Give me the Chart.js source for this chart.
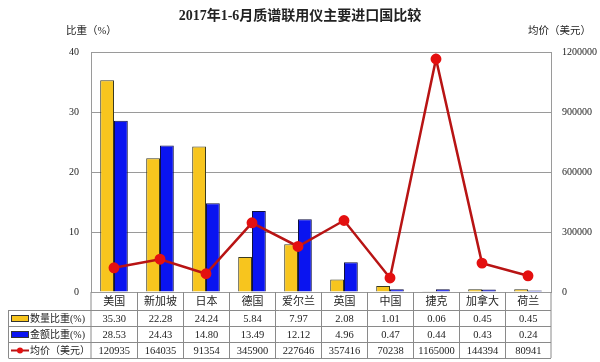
<!DOCTYPE html>
<html><head><meta charset="utf-8">
<script src="https://cdn.jsdelivr.net/npm/chart.js@4"></script>
<style>html,body{margin:0;padding:0;background:#fff}#wrap{width:600px;height:362px}</style>
</head><body><div id="wrap"><canvas id="c" width="600" height="362"></canvas></div>
<script>
const title = "2017年1-6月质谱联用仪主要进口国比较";
const categories = ["美国","新加坡","日本","德国","爱尔兰","英国","中国","捷克","加拿大","荷兰"];
const qtyShare = [35.30,22.28,24.24,5.84,7.97,2.08,1.01,0.06,0.45,0.45];
const amtShare = [28.53,24.43,14.80,13.49,12.12,4.96,0.47,0.44,0.43,0.24];
const avgPrice = [120935,164035,91354,345900,227646,357416,70238,1165000,144394,80941];
const qtyLabels = ["35.30","22.28","24.24","5.84","7.97","2.08","1.01","0.06","0.45","0.45"];
const amtLabels = ["28.53","24.43","14.80","13.49","12.12","4.96","0.47","0.44","0.43","0.24"];
const seriesNames = ["数量比重(%)","金额比重(%)","均价（美元）"];
const leftTitle = "比重（%）";
const rightTitle = "均价（美元）";

const YEL = "#F7C51E", BLU = "#0A14F0", LINE = "#B81414", PT = "#E41010";
const SERIF = "'Liberation Serif','Noto Sans CJK SC',serif";

const tablePlugin = {
  id: 'tbl',
  afterDraw(chart) {
    const ctx = chart.ctx, ca = chart.chartArea, xs = chart.scales.x;
    const n = categories.length;
    const px = i => xs.getPixelForValue(i);
    const bounds = [ca.left];
    for (let i = 0; i < n - 1; i++) bounds.push(Math.round((px(i) + px(i + 1)) / 2) + 0.5);
    bounds.push(ca.right);
    const top = ca.bottom, rowH = 16, hdrH = 18;
    const r1 = top + hdrH, r2 = r1 + rowH, r3 = r2 + rowH, r4 = r3 + rowH;
    const tblLeft = 8.5;
    ctx.save();
    ctx.strokeStyle = "#8a8a8a"; ctx.lineWidth = 1;
    ctx.beginPath();
    bounds.forEach(b => { ctx.moveTo(b, top); ctx.lineTo(b, r4); });
    [r1, r2, r3, r4].forEach(y => { ctx.moveTo(tblLeft, Math.round(y) + 0.5); ctx.lineTo(ca.right, Math.round(y) + 0.5); });
    ctx.moveTo(tblLeft, r1); ctx.lineTo(tblLeft, r4);
    ctx.stroke();
    ctx.fillStyle = "#222"; ctx.textAlign = "center"; ctx.textBaseline = "middle";
    for (let i = 0; i < n; i++) {
      const cx = (bounds[i] + bounds[i + 1]) / 2;
      ctx.font = "11px " + SERIF;
      ctx.fillText(categories[i], cx, top + hdrH / 2 + 1);
      ctx.font = "10.5px " + SERIF;
      ctx.fillText(qtyLabels[i], cx, r1 + rowH / 2 + 1);
      ctx.fillText(amtLabels[i], cx, r2 + rowH / 2 + 1);
      ctx.fillText(String(avgPrice[i]), cx, r3 + rowH / 2 + 1);
    }
    // legend keys
    ctx.textAlign = "left";
    ctx.font = "10px " + SERIF;
    ctx.fillStyle = YEL; ctx.strokeStyle = "#333"; ctx.lineWidth = 1;
    ctx.fillRect(11, r1 + 5, 17, 6); ctx.strokeRect(11.5, r1 + 5.5, 17, 6);
    ctx.fillStyle = BLU;
    ctx.fillRect(11, r2 + 5, 17, 6); ctx.strokeRect(11.5, r2 + 5.5, 17, 6);
    ctx.strokeStyle = LINE; ctx.lineWidth = 2;
    ctx.beginPath(); ctx.moveTo(11, r3 + 8.5); ctx.lineTo(29, r3 + 8.5); ctx.stroke();
    ctx.fillStyle = PT; ctx.beginPath(); ctx.arc(20, r3 + 8.5, 3, 0, Math.PI * 2); ctx.fill();
    ctx.fillStyle = "#222";
    ctx.fillText(seriesNames[0], 30, r1 + rowH / 2 + 1);
    ctx.fillText(seriesNames[1], 30, r2 + rowH / 2 + 1);
    ctx.fillText(seriesNames[2], 30, r3 + rowH / 2 + 1);
    // axis titles and title
    ctx.font = "10.5px " + SERIF;
    ctx.fillText(leftTitle, 66, 31);
    ctx.fillText(rightTitle, 528, 31);
    ctx.font = "bold 14px " + SERIF; ctx.textAlign = "center";
    ctx.fillText(title, 300, 16);
    ctx.restore();
  }
};

new Chart(document.getElementById('c'), {
  data: {
    labels: categories,
    datasets: [
      { type: 'line', label: seriesNames[2], data: avgPrice, yAxisID: 'y2', order: 0,
        borderColor: LINE, borderWidth: 2.5, pointBackgroundColor: PT, pointBorderColor: PT,
        pointRadius: 4.2, pointHoverRadius: 4.2, tension: 0 },
      { type: 'bar', label: seriesNames[0], data: qtyShare, yAxisID: 'y', order: 1,
        backgroundColor: YEL, borderColor: "#3a3a20", borderWidth: 1,
        categoryPercentage: 0.6, barPercentage: 1.0 },
      { type: 'bar', label: seriesNames[1], data: amtShare, yAxisID: 'y', order: 1,
        backgroundColor: BLU, borderColor: "#101040", borderWidth: 1,
        categoryPercentage: 0.6, barPercentage: 1.0 }
    ]
  },
  options: {
    responsive: false, animation: false,
    layout: { padding: { left: 0, right: 0, top: 52, bottom: 70 } },
    plugins: { legend: { display: false }, tooltip: { enabled: false }, title: { display: false } },
    scales: {
      x: { display: false, offset: true },
      y: { position: 'left', min: 0, max: 40,
        ticks: { stepSize: 10, padding: 12, color: "#222", font: { size: 10, family: SERIF } },
        grid: { color: "#9a9a9a", drawTicks: false },
        border: { color: "#9a9a9a" },
        afterFit(s) { s.width = 91; } },
      y2: { position: 'right', min: 0, max: 1200000,
        ticks: { stepSize: 300000, padding: 11, color: "#222", font: { size: 10, family: SERIF },
          callback: v => String(v) },
        grid: { display: false, drawTicks: false },
        border: { color: "#9a9a9a" },
        afterFit(s) { s.width = 49; } }
    }
  },
  plugins: [tablePlugin]
});
</script></body></html>
